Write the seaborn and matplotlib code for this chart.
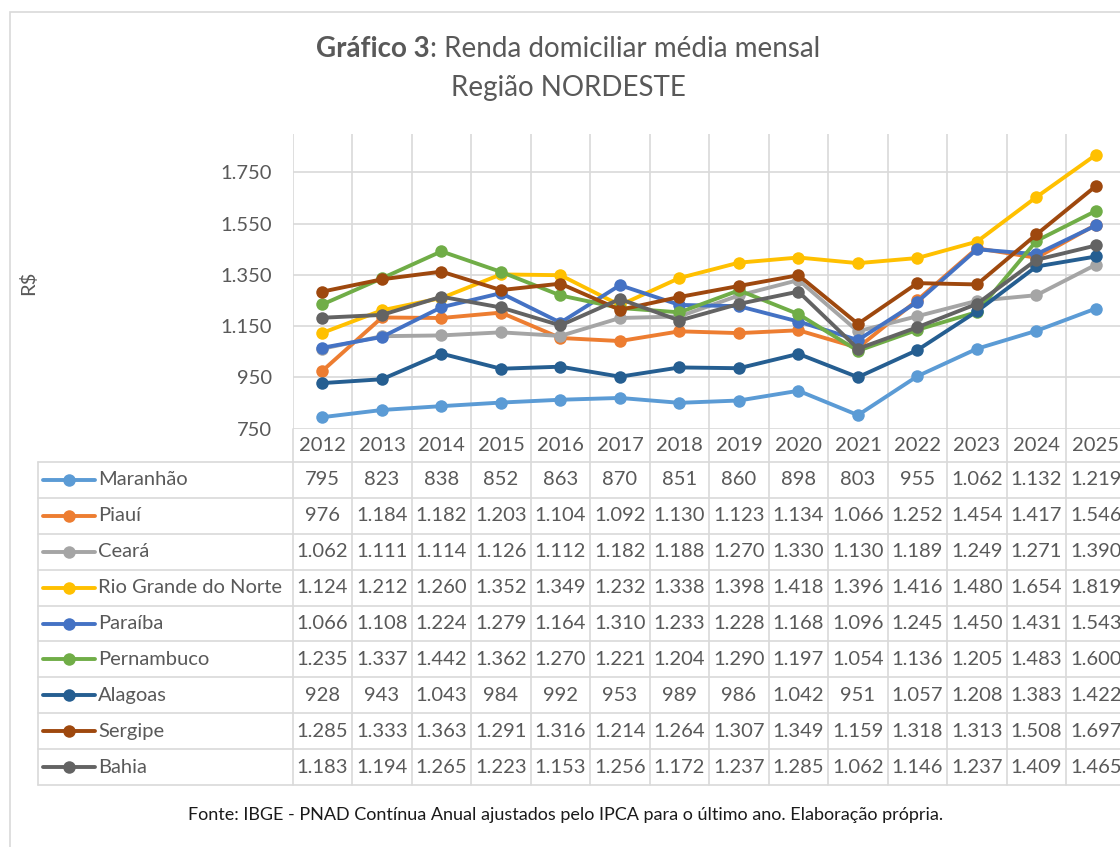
import pandas as pd
import seaborn as sns
import matplotlib.pyplot as plt
from matplotlib.lines import Line2D
from matplotlib.patches import Rectangle

sns.set_theme(style="white")
plt.rcParams["font.family"] = ["Lato", "DejaVu Sans"]

years = list(range(2012, 2026))
states = ["Maranhão", "Piauí", "Ceará", "Rio Grande do Norte", "Paraíba",
          "Pernambuco", "Alagoas", "Sergipe", "Bahia"]
maranhao = [795, 823, 838, 852, 863, 870, 851, 860, 898, 803, 955, 1062, 1132, 1219]
piaui = [976, 1184, 1182, 1203, 1104, 1092, 1130, 1123, 1134, 1066, 1252, 1454, 1417, 1546]
ceara = [1062, 1111, 1114, 1126, 1112, 1182, 1188, 1270, 1330, 1130, 1189, 1249, 1271, 1390]
rn = [1124, 1212, 1260, 1352, 1349, 1232, 1338, 1398, 1418, 1396, 1416, 1480, 1654, 1819]
paraiba = [1066, 1108, 1224, 1279, 1164, 1310, 1233, 1228, 1168, 1096, 1245, 1450, 1431, 1543]
pernambuco = [1235, 1337, 1442, 1362, 1270, 1221, 1204, 1290, 1197, 1054, 1136, 1205, 1483, 1600]
alagoas = [928, 943, 1043, 984, 992, 953, 989, 986, 1042, 951, 1057, 1208, 1383, 1422]
sergipe = [1285, 1333, 1363, 1291, 1316, 1214, 1264, 1307, 1349, 1159, 1318, 1313, 1508, 1697]
bahia = [1183, 1194, 1265, 1223, 1153, 1256, 1172, 1237, 1285, 1062, 1146, 1237, 1409, 1465]
series = [maranhao, piaui, ceara, rn, paraiba, pernambuco, alagoas, sergipe, bahia]
colors = ["#5B9BD5", "#ED7D31", "#A5A5A5", "#FFC000", "#4472C4",
          "#70AD47", "#255E91", "#9E480E", "#636363"]
y_ticks = [750, 950, 1150, 1350, 1550, 1750]

rows = []
for st, vals in zip(states, series):
    for yr, v in zip(years, vals):
        rows.append((yr, st, v))
data = pd.DataFrame(rows, columns=["ano", "estado", "renda"])


def fmt(v):
    return f"{v:,}".replace(",", ".")


# pixel helpers (image is 1120 x 847)
W, H = 1120, 847
def fx(x):
    return x / W
def fy(y):
    return 1 - y / H

grid_c = "#D9D9D9"
txt_c = "#595959"
fs = 14.5
col_w = 59.5
x_left = 292.7
y_top, y_bot = 134, 428.7
tab_top, row_h = 462, (785 - 462) / 9

fig = plt.figure(figsize=(11.2, 8.47), dpi=100)
ax = fig.add_axes([fx(x_left), fy(y_bot), (14 * col_w) / W, (y_bot - y_top) / H])

sns.lineplot(data=data, x="ano", y="renda", hue="estado", hue_order=states,
             palette=colors, marker="o", markersize=9, markeredgewidth=0,
             linewidth=2.8, legend=False, ax=ax)

ax.set_xlim(years[0] - 0.5, years[-1] + 0.5)
ax.set_ylim(750, 1900)
ax.set_yticks(y_ticks)
ax.set_yticklabels([fmt(v) for v in y_ticks])
ax.set_xticks(years)
ax.set_xticklabels([str(y) for y in years])
ax.set_xticks([y - 0.5 for y in years] + [years[-1] + 0.5], minor=True)
ax.tick_params(axis="both", length=0, labelsize=fs, labelcolor=txt_c)
ax.tick_params(axis="y", pad=15)
ax.tick_params(axis="x", pad=6)
ax.yaxis.grid(True, color=grid_c, linewidth=1.2)
ax.xaxis.grid(True, which="minor", color=grid_c, linewidth=1.2)
ax.set_axisbelow(True)
for s in ax.spines.values():
    s.set_visible(False)
ax.set_xlabel("")
ax.set_ylabel("")

# outer chart border
fig.add_artist(Rectangle((fx(9.5), fy(860)), 2, fy(12) - fy(860), transform=fig.transFigure,
                         fill=False, edgecolor=grid_c, linewidth=1.2))

# vertical table lines below the plot
for k in range(15):
    xk = x_left + k * col_w
    fig.add_artist(Line2D([fx(xk), fx(xk)], [fy(y_bot), fy(785)], color=grid_c, lw=1.2))
fig.add_artist(Line2D([fx(38), fx(38)], [fy(tab_top), fy(785)], color=grid_c, lw=1.2))
for i in range(10):
    yi = tab_top + i * row_h
    fig.add_artist(Line2D([fx(38), 1.0], [fy(yi), fy(yi)], color=grid_c, lw=1.2))

# table content with legend keys
for i, (st, vals, c) in enumerate(zip(states, series, colors)):
    yc = tab_top + (i + 0.5) * row_h
    fig.add_artist(Line2D([fx(43), fx(95)], [fy(yc), fy(yc)], color=c, lw=2.8))
    fig.add_artist(Line2D([fx(69)], [fy(yc)], color=c, marker="o", markersize=9,
                          markeredgewidth=0))
    fig.text(fx(98), fy(yc), st, ha="left", va="center", size=fs, color=txt_c)
    for j, v in enumerate(vals):
        xc = x_left + (j + 0.5) * col_w
        fig.text(fx(xc), fy(yc), fmt(v), ha="center", va="center", size=fs, color=txt_c)

# title: bold prefix + regular text
t1 = fig.text(0, 0, "Gráfico 3", weight="bold", size=20, color=txt_c, va="center", ha="left")
t2 = fig.text(0, 0, ": Renda domiciliar média mensal", size=20, color=txt_c,
              va="center", ha="left")
r = fig.canvas.get_renderer()
w1 = t1.get_window_extent(r).width
w2 = t2.get_window_extent(r).width
x0 = 568 - (w1 + w2) / 2
t1.set_position((fx(x0), fy(49)))
t2.set_position((fx(x0 + w1), fy(49)))
fig.text(fx(568), fy(88), "Região NORDESTE", size=20, color=txt_c, ha="center", va="center")

fig.text(fx(28), fy(283), "R$", rotation=90, size=fs, color=txt_c, ha="center", va="center")
fig.text(fx(566), fy(815),
         "Fonte: IBGE - PNAD Contínua Anual ajustados pelo IPCA para o último ano. Elaboração própria.",
         size=13, color="#1a1a1a", ha="center", va="center")

fig.savefig("out.png", dpi=100)
